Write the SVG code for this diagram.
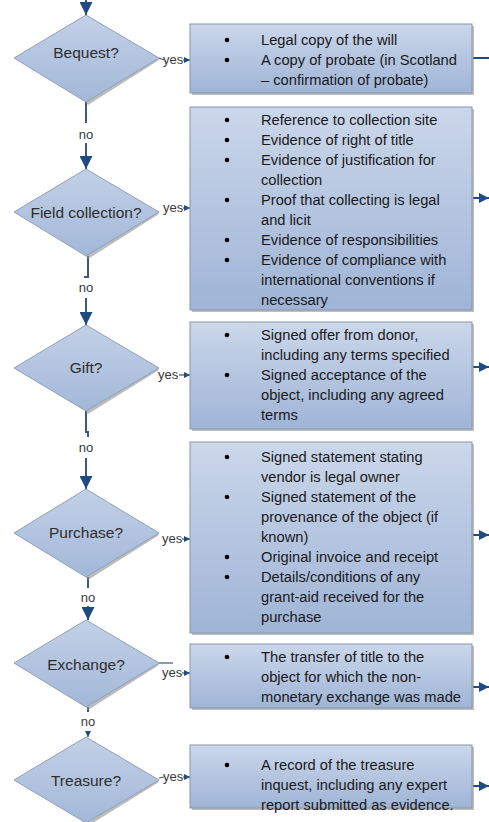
<svg xmlns="http://www.w3.org/2000/svg" width="489" height="822" viewBox="0 0 489 822">
<defs>
<linearGradient id="gb" x1="0" y1="0" x2="0" y2="1">
<stop offset="0" stop-color="#cbd7ea"/>
<stop offset="1" stop-color="#9fb4d6"/>
</linearGradient>
<linearGradient id="gd" x1="0" y1="0" x2="0" y2="1">
<stop offset="0" stop-color="#c3d1e7"/>
<stop offset="1" stop-color="#a2b7d8"/>
</linearGradient>
<marker id="ah" viewBox="0 0 10 10" refX="10" refY="5" markerWidth="13" markerHeight="13" markerUnits="userSpaceOnUse" orient="auto">
<path d="M0,0 L10,5 L0,10 z" fill="#1f4a82"/>
</marker>
<marker id="ahs" viewBox="0 0 10 10" refX="10" refY="5" markerWidth="6" markerHeight="6" markerUnits="userSpaceOnUse" orient="auto">
<path d="M0,0 L10,5 L0,10 z" fill="#1f4a82"/>
</marker>
<marker id="ahr" viewBox="0 0 10 10" refX="10" refY="5" markerWidth="10" markerHeight="11" markerUnits="userSpaceOnUse" orient="auto">
<path d="M0,0 L10,5 L0,10 z" fill="#1f4a82"/>
</marker>
</defs>
<style>
.box{fill:url(#gb);stroke:#8796ac;stroke-width:1}
.bsh{fill:#8a8a8a;opacity:0.55}
.dia{fill:url(#gd);stroke:#8fa0b8;stroke-width:1}
.dsh{fill:#8f8f8f;opacity:0.6}
.bt{font-family:"Liberation Sans",Arial,sans-serif;font-size:14.7px;fill:#1a1a1a}
.dt{font-family:"Liberation Sans",Arial,sans-serif;font-size:15.5px;fill:#2e2e2e;text-anchor:middle}
.lb{font-family:"Liberation Sans",Arial,sans-serif;font-size:13px;fill:#3a3a3a}
.bul{fill:#000}
.ln{stroke:#3d5878;stroke-width:2;fill:none}
.lr{stroke:#1f4a82;stroke-width:2;fill:none}
.ls{stroke:#3d5878;stroke-width:1.2;fill:none}
</style>

<g id="connectors">
<line class="ln" x1="86" y1="0" x2="86" y2="15" marker-end="url(#ah)"/>
<line class="ln" x1="86" y1="102" x2="86" y2="123"/>
<text class="lb" x="86" y="139" text-anchor="middle">no</text>
<line class="ln" x1="86" y1="143" x2="86" y2="169" marker-end="url(#ah)"/>
<polyline class="ln" points="88,256 88,277 84,277"/>
<text class="lb" x="86" y="292" text-anchor="middle">no</text>
<line class="ln" x1="86" y1="298" x2="86" y2="325" marker-end="url(#ah)"/>
<polyline class="ln" points="86,411 86,432 88,432 88,437"/>
<text class="lb" x="86" y="452" text-anchor="middle">no</text>
<line class="ln" x1="86" y1="458" x2="86" y2="489" marker-end="url(#ah)"/>
<line class="ln" x1="88" y1="577" x2="88" y2="588"/>
<text class="lb" x="88" y="602" text-anchor="middle">no</text>
<line class="ln" x1="88" y1="606" x2="88" y2="620" marker-end="url(#ah)"/>
<line class="ln" x1="88" y1="707" x2="88" y2="712"/>
<text class="lb" x="88" y="726" text-anchor="middle">no</text>
<line class="ls" x1="88" y1="731" x2="88" y2="737" marker-end="url(#ahs)"/>

<line class="ls" x1="159" y1="58" x2="164" y2="60"/>
<text class="lb" x="163" y="64">yes</text>
<line class="ls" x1="183" y1="60" x2="190" y2="60" marker-end="url(#ahs)"/>
<text class="lb" x="163" y="212">yes</text>
<line class="ls" x1="183" y1="208" x2="190" y2="208" marker-end="url(#ahs)"/>
<text class="lb" x="158" y="379">yes</text>
<line class="ls" x1="179" y1="375" x2="190" y2="375" marker-end="url(#ahs)"/>
<text class="lb" x="162" y="543">yes</text>
<line class="ls" x1="182" y1="539" x2="190" y2="539" marker-end="url(#ahs)"/>
<line class="ls" x1="159" y1="663" x2="173" y2="663"/>
<text class="lb" x="162" y="677">yes</text>
<line class="ls" x1="182" y1="673" x2="190" y2="673" marker-end="url(#ahs)"/>
<line class="ls" x1="159" y1="778" x2="164" y2="777"/>
<text class="lb" x="163" y="781">yes</text>
<line class="ls" x1="183" y1="777" x2="190" y2="777" marker-end="url(#ahs)"/>

<line class="lr" x1="473" y1="58" x2="489" y2="58"/>
<line class="lr" x1="473" y1="198" x2="489" y2="198" marker-end="url(#ahr)"/>
<line class="lr" x1="473" y1="367" x2="489" y2="367" marker-end="url(#ahr)"/>
<line class="lr" x1="473" y1="535" x2="489" y2="535" marker-end="url(#ahr)"/>
<line class="lr" x1="473" y1="687" x2="489" y2="687" marker-end="url(#ahr)"/>
<line class="lr" x1="473" y1="786" x2="489" y2="786" marker-end="url(#ahr)"/>
</g>

<g id="bequest">
<polygon class="dsh" points="159,60 88,105 86,102 157,58"/>
<polygon class="dia" points="86,15 159,58 86,102 14,58"/>
<text class="dt" x="86" y="58">Bequest?</text>
</g>
<g id="field">
<polygon class="dsh" points="159,214 88,259 86,256 157,212"/>
<polygon class="dia" points="86,169 159,212 86,256 14,212"/>
<text class="dt" x="86" y="218">Field collection?</text>
</g>
<g id="gift">
<polygon class="dsh" points="159,370 88,414 86,411 157,368"/>
<polygon class="dia" points="86,325 159,368 86,411 14,368"/>
<text class="dt" x="86" y="373">Gift?</text>
</g>
<g id="purchase">
<polygon class="dsh" points="159,535 88,580 86,577 157,533"/>
<polygon class="dia" points="86,489 159,533 86,577 14,533"/>
<text class="dt" x="86" y="538">Purchase?</text>
</g>
<g id="exchange">
<polygon class="dsh" points="159,665 88,710 86,707 157,663"/>
<polygon class="dia" points="86,620 159,663 86,707 14,663"/>
<text class="dt" x="86" y="670">Exchange?</text>
</g>
<g id="treasure">
<polygon class="dsh" points="159,782 88,826 86,823 157,780"/>
<polygon class="dia" points="86,737 159,780 86,823 14,780"/>
<text class="dt" x="86" y="786">Treasure?</text>
</g>

<g id="box-bequest">
<rect class="bsh" x="192" y="26" width="282" height="69"/>
<rect class="box" x="190" y="24" width="282" height="69"/>
<circle class="bul" cx="227" cy="40" r="2.3"/>
<circle class="bul" cx="227" cy="60" r="2.3"/>
<text class="bt" x="261" y="45">Legal copy of the will</text>
<text class="bt" x="261" y="65">A copy of probate (in Scotland</text>
<text class="bt" x="261" y="85">– confirmation of probate)</text>
</g>
<g id="box-field">
<rect class="bsh" x="192" y="109" width="282" height="203"/>
<rect class="box" x="190" y="107" width="282" height="203"/>
<circle class="bul" cx="227" cy="120" r="2.3"/>
<circle class="bul" cx="227" cy="140" r="2.3"/>
<circle class="bul" cx="227" cy="160" r="2.3"/>
<circle class="bul" cx="227" cy="200" r="2.3"/>
<circle class="bul" cx="227" cy="240" r="2.3"/>
<circle class="bul" cx="227" cy="260" r="2.3"/>
<text class="bt" x="261" y="125">Reference to collection site</text>
<text class="bt" x="261" y="145">Evidence of right of title</text>
<text class="bt" x="261" y="165">Evidence of justification for</text>
<text class="bt" x="261" y="185">collection</text>
<text class="bt" x="261" y="205">Proof that collecting is legal</text>
<text class="bt" x="261" y="225">and licit</text>
<text class="bt" x="261" y="245">Evidence of responsibilities</text>
<text class="bt" x="261" y="265">Evidence of compliance with</text>
<text class="bt" x="261" y="285">international conventions if</text>
<text class="bt" x="261" y="305">necessary</text>
</g>
<g id="box-gift">
<rect class="bsh" x="192" y="324" width="282" height="107"/>
<rect class="box" x="190" y="322" width="282" height="107"/>
<circle class="bul" cx="227" cy="335" r="2.3"/>
<circle class="bul" cx="227" cy="375" r="2.3"/>
<text class="bt" x="261" y="340">Signed offer from donor,</text>
<text class="bt" x="261" y="360">including any terms specified</text>
<text class="bt" x="261" y="380">Signed acceptance of the</text>
<text class="bt" x="261" y="400">object, including any agreed</text>
<text class="bt" x="261" y="420">terms</text>
</g>
<g id="box-purchase">
<rect class="bsh" x="192" y="444" width="282" height="191"/>
<rect class="box" x="190" y="442" width="282" height="191"/>
<circle class="bul" cx="227" cy="457" r="2.3"/>
<circle class="bul" cx="227" cy="497" r="2.3"/>
<circle class="bul" cx="227" cy="557" r="2.3"/>
<circle class="bul" cx="227" cy="577" r="2.3"/>
<text class="bt" x="261" y="462">Signed statement stating</text>
<text class="bt" x="261" y="482">vendor is legal owner</text>
<text class="bt" x="261" y="502">Signed statement of the</text>
<text class="bt" x="261" y="522">provenance of the object (if</text>
<text class="bt" x="261" y="542">known)</text>
<text class="bt" x="261" y="562">Original invoice and receipt</text>
<text class="bt" x="261" y="582">Details/conditions of any</text>
<text class="bt" x="261" y="602">grant-aid received for the</text>
<text class="bt" x="261" y="622">purchase</text>
</g>
<g id="box-exchange">
<rect class="bsh" x="192" y="646" width="282" height="64"/>
<rect class="box" x="190" y="644" width="282" height="64"/>
<circle class="bul" cx="227" cy="657" r="2.3"/>
<text class="bt" x="261" y="662">The transfer of title to the</text>
<text class="bt" x="261" y="682">object for which the non-</text>
<text class="bt" x="261" y="702">monetary exchange was made</text>
</g>
<g id="box-treasure">
<rect class="bsh" x="192" y="747" width="282" height="63"/>
<rect class="box" x="190" y="745" width="282" height="63"/>
<circle class="bul" cx="227" cy="765" r="2.3"/>
<text class="bt" x="261" y="770">A record of the treasure</text>
<text class="bt" x="261" y="790">inquest, including any expert</text>
<text class="bt" x="261" y="810">report submitted as evidence.</text>
</g>
</svg>
